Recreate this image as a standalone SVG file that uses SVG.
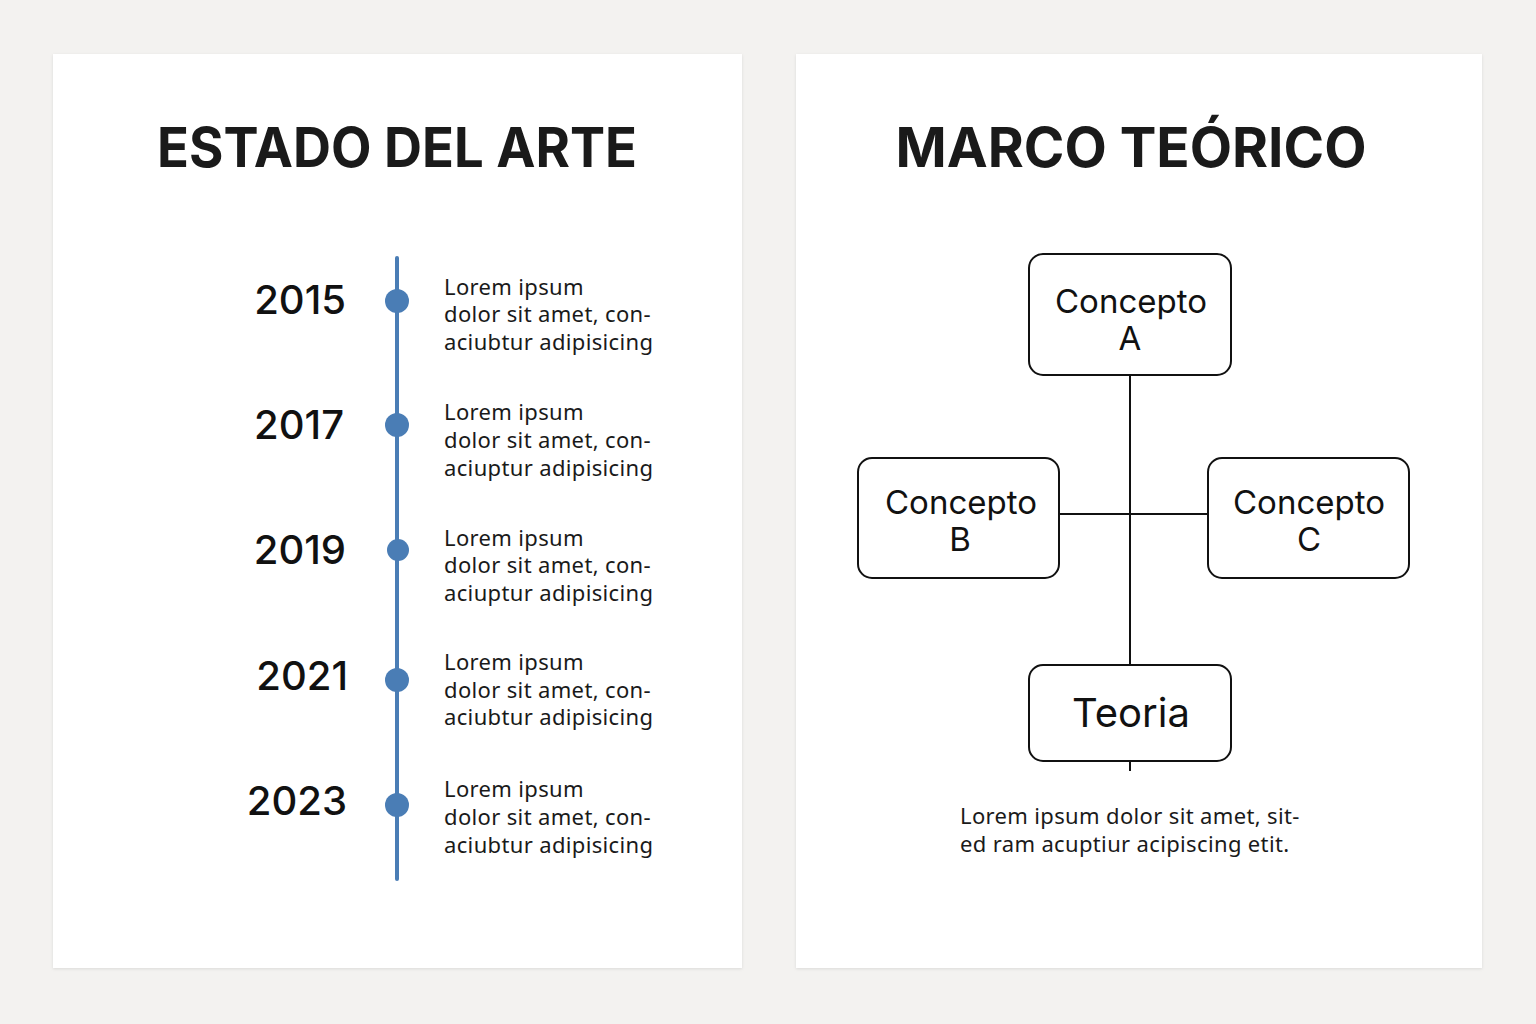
<svg xmlns="http://www.w3.org/2000/svg" width="1536" height="1024" viewBox="0 0 1536 1024">
  <defs>
    <filter id="sh" x="-5%" y="-5%" width="110%" height="110%">
      <feDropShadow dx="0" dy="1" stdDeviation="1.5" flood-color="#000" flood-opacity="0.10"/>
    </filter>
    <style>
      .panel { fill: #ffffff; filter: url(#sh); }
      .title { font-family: Inter, "Noto Sans", sans-serif; font-weight: 700; font-size: 55px; fill: #1a1a1a; text-anchor: middle; }
      .year { font-family: Inter, "Noto Sans", sans-serif; font-weight: 500; font-size: 40px; fill: #111; text-anchor: end; }
      .desc { font-family: "Noto Sans", Inter, sans-serif; font-size: 22px; letter-spacing: 0.35px; fill: #1a1a1a; }
      .tl { stroke: #4a7db5; stroke-width: 4; stroke-linecap: round; fill: none; }
      .dot { fill: #4a7db5; }
      .box { fill: #ffffff; stroke: #111; stroke-width: 2; }
      .lbl { font-family: Inter, "Noto Sans", sans-serif; font-size: 33px; fill: #111; text-anchor: middle; }
      .conn { stroke: #111; stroke-width: 2; fill: none; }
    </style>
  </defs>
  <rect x="0" y="0" width="1536" height="1024" fill="#f3f2f0"/>

  <g id="panel-left">
    <rect class="panel" x="53" y="54" width="689" height="914"/>
    <text class="title" x="397" y="167" textLength="480" lengthAdjust="spacingAndGlyphs">ESTADO DEL ARTE</text>
  </g>
  <g id="panel-right">
    <rect class="panel" x="796" y="54" width="686" height="914"/>
    <text class="title" x="1131" y="167" textLength="471" lengthAdjust="spacingAndGlyphs">MARCO TEÓRICO</text>
  </g>

  <g id="timeline">
    <line class="tl" x1="397" y1="258" x2="397" y2="879"/>
  </g>

  <g id="item-2015">
    <circle class="dot" cx="397" cy="301" r="12"/>
    <text class="year" x="346" y="314">2015</text>
    <text class="desc" x="444"><tspan x="444" y="295">Lorem ipsum</tspan><tspan x="444" y="322">dolor sit amet, con-</tspan><tspan x="444" y="350">aciubtur adipisicing</tspan></text>
  </g>
  <g id="item-2017">
    <circle class="dot" cx="397" cy="425" r="12"/>
    <text class="year" x="344" y="439">2017</text>
    <text class="desc" x="444"><tspan x="444" y="420">Lorem ipsum</tspan><tspan x="444" y="448">dolor sit amet, con-</tspan><tspan x="444" y="476">aciuptur adipisicing</tspan></text>
  </g>
  <g id="item-2019">
    <circle class="dot" cx="398" cy="550" r="11"/>
    <text class="year" x="346" y="564">2019</text>
    <text class="desc" x="444"><tspan x="444" y="546">Lorem ipsum</tspan><tspan x="444" y="573">dolor sit amet, con-</tspan><tspan x="444" y="601">aciuptur adipisicing</tspan></text>
  </g>
  <g id="item-2021">
    <circle class="dot" cx="397" cy="680" r="12"/>
    <text class="year" x="348" y="690">2021</text>
    <text class="desc" x="444"><tspan x="444" y="670">Lorem ipsum</tspan><tspan x="444" y="698">dolor sit amet, con-</tspan><tspan x="444" y="725">aciubtur adipisicing</tspan></text>
  </g>
  <g id="item-2023">
    <circle class="dot" cx="397" cy="805" r="12"/>
    <text class="year" x="347" y="815">2023</text>
    <text class="desc" x="444"><tspan x="444" y="797">Lorem ipsum</tspan><tspan x="444" y="825">dolor sit amet, con-</tspan><tspan x="444" y="853">aciubtur adipisicing</tspan></text>
  </g>

  <g id="connectors">
    <line class="conn" x1="1130" y1="375" x2="1130" y2="665"/>
    <line class="conn" x1="1059" y1="514" x2="1208" y2="514"/>
    <line class="conn" x1="1130" y1="761" x2="1130" y2="771"/>
  </g>

  <g id="node-a">
    <rect class="box" x="1029" y="254" width="202" height="121" rx="14"/>
    <text class="lbl"><tspan x="1131" y="313">Concepto</tspan><tspan x="1130" y="350">A</tspan></text>
  </g>
  <g id="node-b">
    <rect class="box" x="858" y="458" width="201" height="120" rx="14"/>
    <text class="lbl"><tspan x="961" y="514">Concepto</tspan><tspan x="960" y="551">B</tspan></text>
  </g>
  <g id="node-c">
    <rect class="box" x="1208" y="458" width="201" height="120" rx="14"/>
    <text class="lbl"><tspan x="1309" y="514">Concepto</tspan><tspan x="1309" y="551">C</tspan></text>
  </g>
  <g id="node-teoria">
    <rect class="box" x="1029" y="665" width="202" height="96" rx="14"/>
    <text class="lbl" x="1131" y="727" style="font-size:40px">Teoria</text>
  </g>

  <g id="note">
    <text class="desc"><tspan x="960" y="824">Lorem ipsum dolor sit amet, sit-</tspan><tspan x="960" y="852">ed ram acuptiur acipiscing etit.</tspan></text>
  </g>
</svg>
